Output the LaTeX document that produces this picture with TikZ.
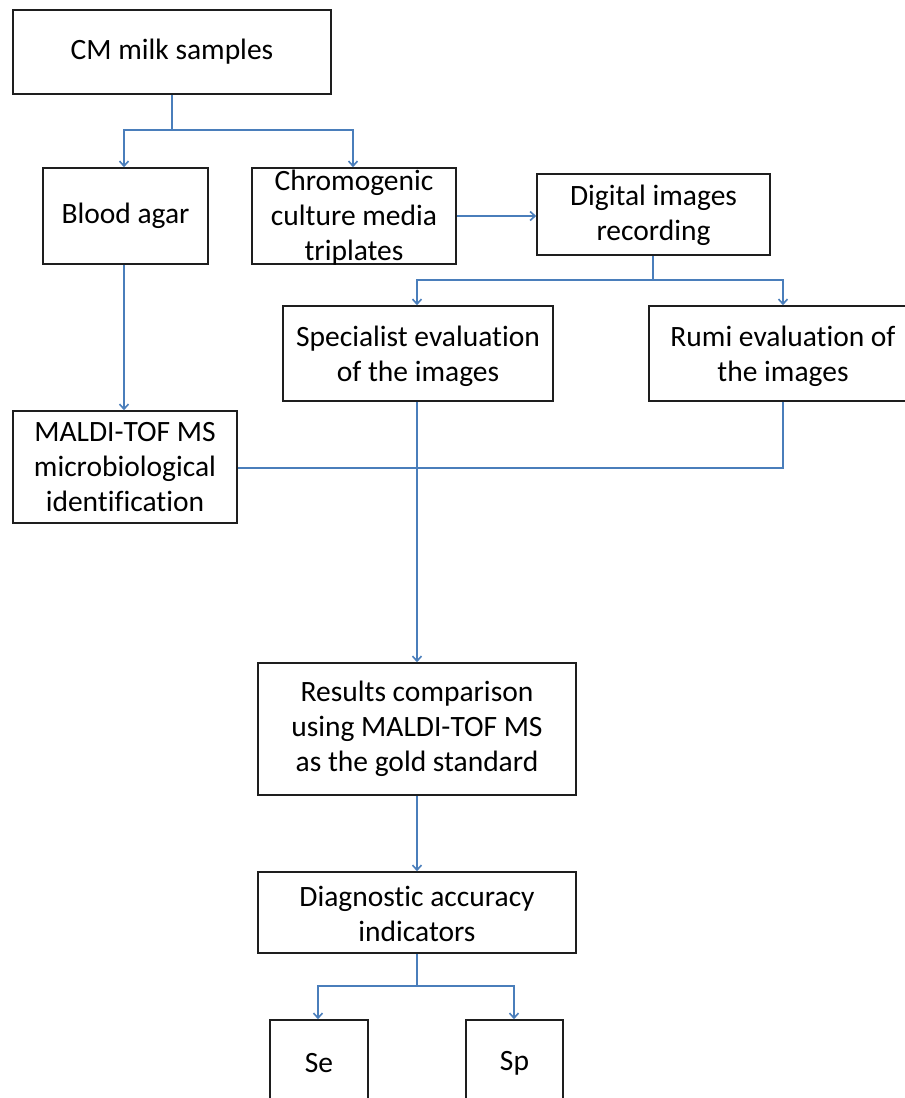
\documentclass[tikz,border=0pt]{standalone}
\usepackage{fontspec}
\setmainfont{Carlito}[Ligatures=NoCommon]
\usetikzlibrary{arrows.meta}
\definecolor{lineblue}{HTML}{4A7EBB}
\definecolor{boxline}{HTML}{1E1E1E}
\begin{document}
\begin{tikzpicture}[x=1pt,y=-1pt,
  boxshape/.style={draw=boxline, line width=1.5pt, fill=white, inner sep=0pt, rectangle},
  label/.style={inner sep=0pt, align=center, font=\fontsize{29.5}{35}\selectfont},
  conn/.style={draw=lineblue, line width=2pt},
  arr/.style={conn, -{Straight Barb[length=5pt,width=9pt,line width=1.6pt]}}]
\path[use as bounding box, clip] (0,0) rectangle (905,1098);
\fill[white] (0,0) rectangle (905,1098);

% boxes
\node[boxshape, minimum width=318pt, minimum height=84pt] (cm) at (172,52) {};
\node[boxshape, minimum width=165pt, minimum height=96pt] (blood) at (125.5,216) {};
\node[boxshape, minimum width=204pt, minimum height=96pt] (chrom) at (354,216) {};
\node[boxshape, minimum width=233pt, minimum height=81pt] (digital) at (653.5,214.5) {};
\node[boxshape, minimum width=270pt, minimum height=95pt] (spec) at (418,353.5) {};
\node[boxshape, minimum width=268pt, minimum height=95pt] (rumi) at (783,353.5) {};
\node[boxshape, minimum width=224pt, minimum height=112pt] (maldi) at (125,467) {};
\node[boxshape, minimum width=318pt, minimum height=132pt] (results) at (417,729) {};
\node[boxshape, minimum width=318pt, minimum height=81pt] (diag) at (417,912.5) {};
\node[boxshape, minimum width=98pt, minimum height=90pt] (se) at (319,1065) {};
\node[boxshape, minimum width=97pt, minimum height=90pt] (sp) at (514.5,1065) {};

% texts
\node[label] (cm-t) at (172,52) {CM milk samples};
\node[label] (blood-t) at (125.5,216) {Blood agar};
\node[label] (chrom-t) at (354,217.5) {Chromogenic\\culture media\\triplates};
\node[label] (digital-t) at (653.5,215) {Digital images\\recording};
\node[label] (spec-t) at (418,356) {Specialist evaluation\\of the images};
\node[label] (rumi-t) at (783,356) {Rumi evaluation of\\the images};
\node[label] (maldi-t) at (125,467) {MALDI-TOF MS\\microbiological\\identification};
\node[label] (results-t) at (417,729) {Results comparison\\using MALDI-TOF MS\\as the gold standard};
\node[label] (diag-t) at (417,914) {Diagnostic accuracy\\indicators};
\node[label] (se-t) at (319,1063) {Se};
\node[label] (sp-t) at (514.5,1063) {Sp};

% junction coordinates
\coordinate (j1) at (172,130);
\coordinate (j2) at (653,280);
\coordinate (j3) at (783,468);
\coordinate (j4) at (417,986);

% connectors
\draw[conn] (cm.south -| j1) -- (j1);
\draw[arr] (j1) -| (blood.north -| 124,0);
\draw[arr] (j1) -| (chrom.north -| 353,0);
\draw[arr] (chrom.east |- 0,216) -- (digital.west |- 0,216);
\draw[conn] (digital.south -| j2) -- (j2);
\draw[arr] (j2) -| (spec.north -| 417,0);
\draw[arr] (j2) -| (rumi.north);
\draw[arr] (blood.south -| 124,0) -- (maldi.north -| 124,0);
\draw[conn] (rumi.south) -- (j3) -- (maldi.east |- j3);
\draw[arr] (spec.south -| 417,0) -- (results.north);
\draw[arr] (results.south) -- (diag.north);
\draw[conn] (diag.south) -- (j4);
\draw[arr] (j4) -| (se.north -| 318,0);
\draw[arr] (j4) -| (sp.north -| 514,0);
\end{tikzpicture}
\end{document}
